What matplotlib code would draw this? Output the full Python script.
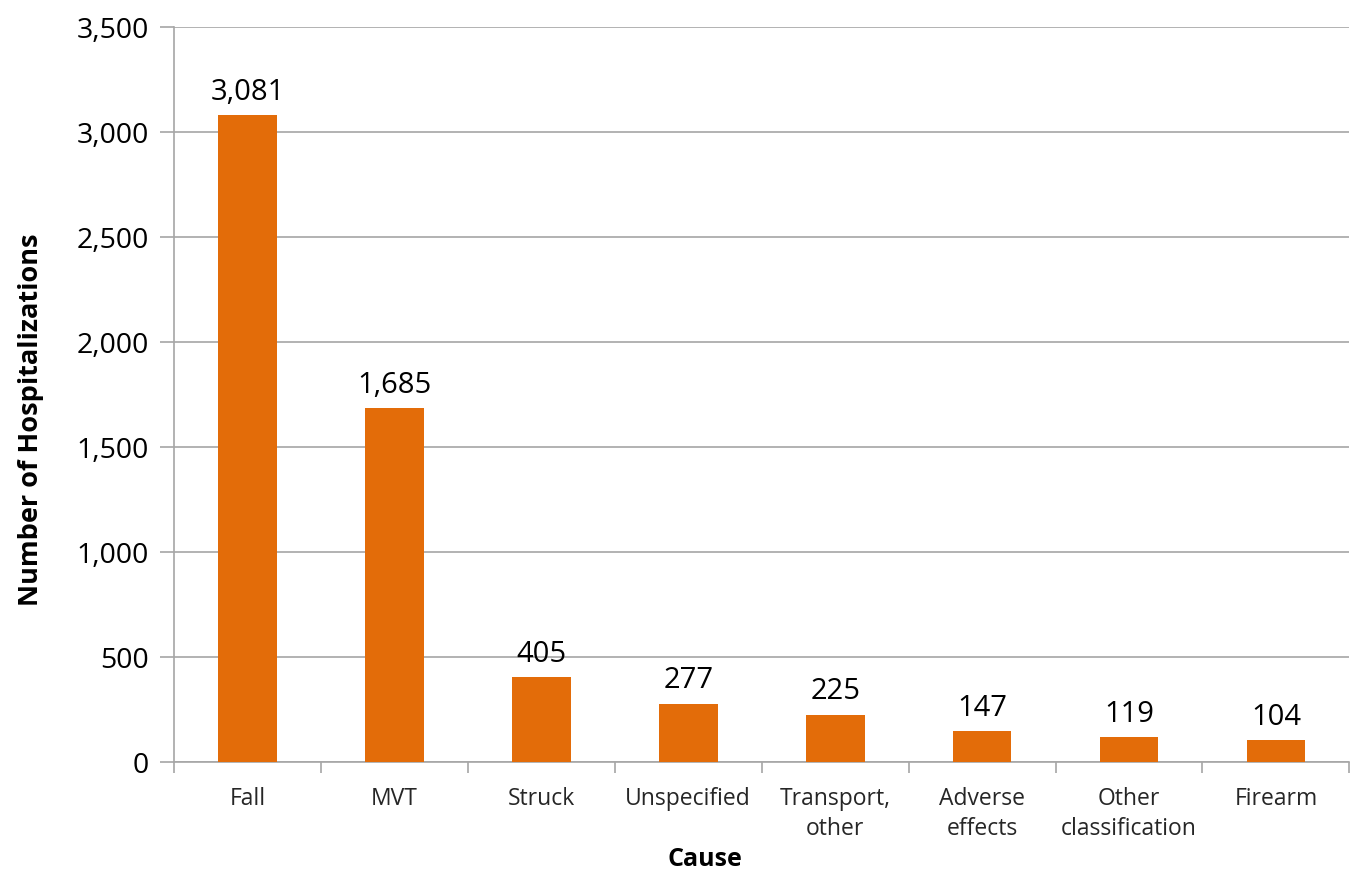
import matplotlib.pyplot as plt
from matplotlib.ticker import FuncFormatter, FixedLocator
import numpy as np

plt.rcParams['font.family'] = ['Open Sans', 'DejaVu Sans']

causes = ['Fall', 'MVT', 'Struck', 'Unspecified', 'Transport,\nother',
          'Adverse\neffects', 'Other\nclassification', 'Firearm']
hospitalizations = [3081, 1685, 405, 277, 225, 147, 119, 104]

bar_color = '#E36C09'
grid_color = '#A6A6A6'

fig = plt.figure(figsize=(13.51, 8.77), dpi=100)
ax = fig.add_axes([0.1288, 0.1311, 0.870, 0.8381])

x = np.arange(len(causes))
ax.bar(x, hospitalizations, width=0.40, color=bar_color, zorder=3)

for xi, v in zip(x, hospitalizations):
    ax.text(xi, v + 40, f'{v:,}', ha='center', va='bottom', fontsize=21, color='black')

ax.set_xlim(-0.5, len(causes) - 0.5)
ax.set_ylim(0, 3500)
ax.set_yticks(np.arange(0, 3501, 500))
ax.yaxis.set_major_formatter(FuncFormatter(lambda v, p: f'{int(v):,}'))
ax.yaxis.grid(True, color=grid_color, linewidth=1.2, zorder=0)

ax.set_xticks(x)
ax.set_xticklabels(causes, fontsize=16.5, color='#262626', linespacing=1.35)
ax.xaxis.set_minor_locator(FixedLocator(np.arange(-0.5, len(causes), 1.0)))
ax.tick_params(axis='x', which='major', length=0, pad=18)
ax.tick_params(axis='x', which='minor', length=8, color=grid_color, width=1.2)
ax.tick_params(axis='y', length=10, color=grid_color, width=1.2, labelsize=20.5, pad=8)

for s in ['top', 'right']:
    ax.spines[s].set_visible(False)
for s in ['left', 'bottom']:
    ax.spines[s].set_color(grid_color)
    ax.spines[s].set_linewidth(1.2)

ax.set_xlabel('Cause', fontsize=18, fontweight='bold')
ax.set_ylabel('Number of Hospitalizations', fontsize=19.5, fontweight='bold')
ax.xaxis.set_label_coords(0.452, -0.115)
ax.yaxis.set_label_coords(-0.111, 0.465)

fig.savefig('out.png', dpi=100)
